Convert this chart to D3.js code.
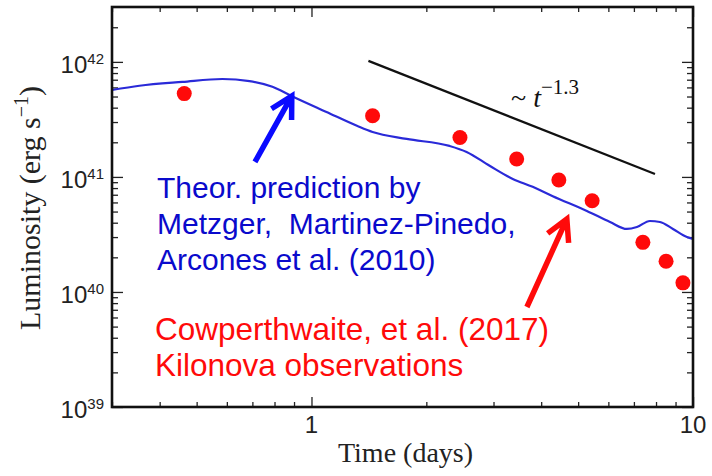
<!DOCTYPE html>
<html>
<head>
<meta charset="utf-8">
<script src="https://cdn.jsdelivr.net/npm/d3@7"></script>
<style>
  body { margin: 0; background: #fff; }
  svg { display: block; }
  .sans { font-family: "Liberation Sans", Arial, sans-serif; }
  .serif { font-family: "Liberation Serif", "Times New Roman", serif; }
</style>
</head>
<body>
<svg id="chart" width="712" height="476"></svg>
<script>
// observed kilonova points (days, erg/s)
var obsDays = [0.464, 1.446, 2.45, 3.45, 4.45, 5.44, 7.39, 8.50, 9.41];
var obsLum = [5.3e41, 3.4e41, 2.2e41, 1.43e41, 9.4e40, 6.2e40, 2.7e40, 1.85e40, 1.2e40];

// theoretical light curve
var modelDays = [0.3, 0.354, 0.459, 0.584, 0.688, 0.79, 0.886, 1.095, 1.32, 1.446, 1.776, 2.30, 2.55, 2.93, 3.37, 3.80, 4.29, 5.27, 6.06, 6.71, 7.13, 7.71, 8.19, 8.86, 9.64, 10];
var modelLum = [5.7e41, 6.2e41, 6.7e41, 7.1e41, 6.8e41, 6.07e41, 5.06e41, 3.67e41, 2.77e41, 2.46e41, 2.14e41, 1.86e41, 1.65e41, 1.25e41, 9.6e40, 8.2e40, 6.8e40, 5.06e40, 4.06e40, 3.53e40, 3.67e40, 4.14e40, 4.06e40, 3.53e40, 3.0e40, 2.89e40];

// power law guide ~ t^-1.3
var powerDays = [1.41, 7.95];
var powerLum = [1.02e42, 1.06e41];

var xTicks = [1, 10];
var yTicks = [39, 40, 41, 42];

// annotation arrows [tail, tip] in data units
var blueArrow = [[0.711, 1.35e41], [0.888, 5.06e41]];
var redArrow = [[3.67, 7.4e39], [4.67, 4.31e40]];

var blueLines = ["Theor. prediction by", "Metzger,  Martinez-Pinedo,", "Arcones et al. (2010)"];
var redLines = ["Cowperthwaite, et al. (2017)", "Kilonova observations"];

var padL = 112, padR = 693, padT = 7, padB = 407;

var svg = d3.select("#chart");

var x = d3.scaleLog().domain([0.3, 10]).range([padL, padR]);
var y = d3.scaleLog().domain([1e39, 3e42]).range([padB, padT]);

function minorTicks(lo, hi) {
    var out = [];
    for (var e = Math.floor(Math.log10(lo)); e <= Math.ceil(Math.log10(hi)); e++) {
        for (var k = 2; k <= 9; k++) {
            var v = k * Math.pow(10, e);
            if (v > lo && v < hi) out.push(v);
        }
    }
    return out;
}

var xMinor = minorTicks(0.3, 10);
var yMinor = minorTicks(1e39, 3e42);
var yMajor = yTicks.map(function(e) { return Math.pow(10, e); });

// ticks pointing inward on all four sides
function tickGroup(axisFn, scale, vals, size, tr) {
    var g = svg.append("g").attr("transform", tr)
        .call(axisFn(scale).tickValues(vals).tickSize(size).tickFormat(""));
    g.select(".domain").remove();
    g.selectAll("line").attr("stroke", "#222").attr("stroke-width", 1.3);
}
tickGroup(d3.axisBottom, x, xMinor, -5, "translate(0," + padB + ")");
tickGroup(d3.axisBottom, x, xTicks, -10, "translate(0," + padB + ")");
tickGroup(d3.axisTop, x, xMinor, -5, "translate(0," + padT + ")");
tickGroup(d3.axisTop, x, xTicks, -10, "translate(0," + padT + ")");
tickGroup(d3.axisLeft, y, yMinor, -6, "translate(" + padL + ",0)");
tickGroup(d3.axisLeft, y, yMajor, -11, "translate(" + padL + ",0)");
tickGroup(d3.axisRight, y, yMinor, -6, "translate(" + padR + ",0)");
tickGroup(d3.axisRight, y, yMajor, -11, "translate(" + padR + ",0)");

// model curve
var line = d3.line()
    .x(function(d) { return x(d[0]); })
    .y(function(d) { return y(d[1]); })
    .curve(d3.curveMonotoneX);

svg.append("path")
    .datum(d3.zip(modelDays, modelLum))
    .attr("d", line)
    .attr("fill", "none")
    .attr("stroke", "#2a2ad8")
    .attr("stroke-width", 2.2);

// power law
svg.append("path")
    .datum(d3.zip(powerDays, powerLum))
    .attr("d", d3.line().x(function(d) { return x(d[0]); }).y(function(d) { return y(d[1]); }))
    .attr("stroke", "#111")
    .attr("stroke-width", 2.2);

// observations
svg.append("g").selectAll("circle")
    .data(d3.zip(obsDays, obsLum))
    .join("circle")
    .attr("cx", function(d) { return x(d[0]); })
    .attr("cy", function(d) { return y(d[1]); })
    .attr("r", 7.5)
    .attr("fill", "#ff0a0a");

// frame
svg.append("rect")
    .attr("x", padL).attr("y", padT)
    .attr("width", padR - padL).attr("height", padB - padT)
    .attr("fill", "none").attr("stroke", "#111").attr("stroke-width", 2.6);

// y tick labels 10^n
var yl = svg.append("g").attr("class", "sans").attr("fill", "#222");
yTicks.forEach(function(e) {
    var t = yl.append("text")
        .attr("x", 104).attr("y", y(Math.pow(10, e)) + 11)
        .attr("text-anchor", "end").attr("font-size", 24);
    t.append("tspan").text("10");
    t.append("tspan").attr("dy", -9).attr("font-size", 15).text(e);
});

// x tick labels
svg.append("g").attr("class", "sans").selectAll("text")
    .data(xTicks).join("text")
    .attr("x", function(d) { return x(d); })
    .attr("y", 433)
    .attr("text-anchor", "middle")
    .attr("font-size", 24)
    .attr("fill", "#222")
    .text(function(d) { return d; });

// axis titles
svg.append("text").attr("class", "serif")
    .attr("x", (padL + padR) / 2 + 3).attr("y", 462)
    .attr("text-anchor", "middle").attr("font-size", 28).attr("fill", "#222")
    .text("Time (days)");

var yt = svg.append("text").attr("class", "serif")
    .attr("transform", "translate(40," + ((padT + padB) / 2 + 1) + ") rotate(-90)")
    .attr("text-anchor", "middle").attr("font-size", 30).attr("fill", "#222");
yt.append("tspan").text("Luminosity (erg s");
yt.append("tspan").attr("dy", -12).attr("font-size", 20).text("\u22121");
yt.append("tspan").attr("dy", 12).text(")");

// ~ t^-1.3
var pl = svg.append("text").attr("class", "serif")
    .attr("x", 511).attr("y", 107).attr("font-size", 28).attr("fill", "#111");
pl.append("tspan").text("~ ");
pl.append("tspan").attr("font-style", "italic").text("t");
pl.append("tspan").attr("dy", -13).attr("font-size", 21).text("\u22121.3");

// arrows
function arrow(pts, color) {
    var x0 = x(pts[0][0]), y0 = y(pts[0][1]), x1 = x(pts[1][0]), y1 = y(pts[1][1]);
    var a = Math.atan2(y0 - y1, x0 - x1), len = 24, spread = 0.5;
    var d = "M" + x0 + "," + y0 + "L" + x1 + "," + y1 +
        "M" + (x1 + len * Math.cos(a - spread)) + "," + (y1 + len * Math.sin(a - spread)) +
        "L" + x1 + "," + y1 +
        "L" + (x1 + len * Math.cos(a + spread)) + "," + (y1 + len * Math.sin(a + spread));
    svg.append("path").attr("d", d).attr("fill", "none")
        .attr("stroke", color).attr("stroke-width", 5.5)
        .attr("stroke-linejoin", "miter").attr("stroke-linecap", "butt");
}
arrow(blueArrow, "#0a0aff");
arrow(redArrow, "#ff0a0a");

// annotation text
svg.append("g").attr("class", "sans").selectAll("text")
    .data(blueLines).join("text")
    .attr("x", 157)
    .attr("y", function(d, i) { return 198 + i * 36; })
    .attr("font-size", 30)
    .attr("fill", "#0a0acc")
    .style("white-space", "pre")
    .text(function(d) { return d; });

svg.append("g").attr("class", "sans").selectAll("text")
    .data(redLines).join("text")
    .attr("x", 155)
    .attr("y", function(d, i) { return 340 + i * 36; })
    .attr("font-size", 31.5)
    .attr("fill", "#ff0a0a")
    .text(function(d) { return d; });
</script>
</body>
</html>
